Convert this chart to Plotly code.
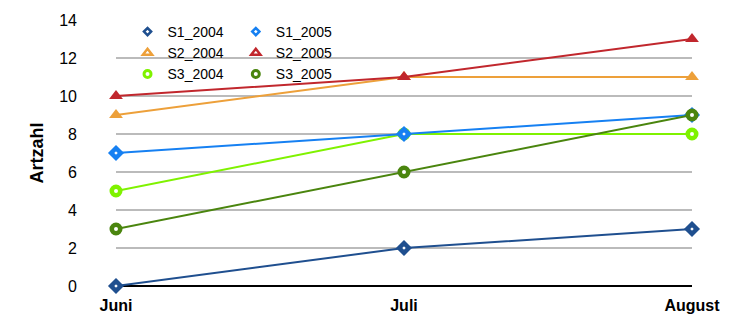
import plotly.graph_objects as go

months = ["Juni", "Juli", "August"]
s1_2004 = [0, 2, 3]
s1_2005 = [7, 8, 9]
s2_2004 = [9, 11, 11]
s2_2005 = [10, 11, 13]
s3_2004 = [5, 8, 8]
s3_2005 = [3, 6, 9]
y_ticks = [0, 2, 4, 6, 8, 10, 12, 14]

FONT = "Liberation Sans, Arial, Helvetica, sans-serif"

series = [
    ("S1_2004", s1_2004, "#1F4F8F", "diamond", "legend"),
    ("S2_2004", s2_2004, "#EDA03A", "triangle-up", "legend"),
    ("S3_2004", s3_2004, "#7FF200", "circle", "legend"),
    ("S1_2005", s1_2005, "#1680F2", "diamond", "legend2"),
    ("S2_2005", s2_2005, "#C1272D", "triangle-up", "legend2"),
    ("S3_2005", s3_2005, "#4A850E", "circle", "legend2"),
]


def plot_marker(sym, color):
    if sym == "triangle-up":
        return dict(symbol=sym, size=12, color=color, line=dict(width=0))
    if sym == "circle":
        return dict(symbol=sym, size=8.5, color="white",
                    line=dict(color=color, width=4.5))
    return dict(symbol=sym, size=7.5, color="white",
                line=dict(color=color, width=4.5))


def legend_marker(sym, color):
    if sym == "triangle-up":
        return dict(symbol=sym, size=8, color="white",
                    line=dict(color=color, width=2.5))
    if sym == "circle":
        return dict(symbol=sym, size=7, color="white",
                    line=dict(color=color, width=3))
    return dict(symbol=sym, size=5.5, color="white",
                line=dict(color=color, width=2.5))


fig = go.Figure()
for name, vals, color, sym, leg in series:
    fig.add_trace(go.Scatter(
        x=months, y=vals, name=name, mode="lines+markers",
        line=dict(color=color, width=2), marker=plot_marker(sym, color),
        cliponaxis=False, showlegend=False,
    ))
    # legend entry shows the symbol only
    fig.add_trace(go.Scatter(
        x=[None], y=[None], name=name, mode="markers",
        marker=legend_marker(sym, color), legend=leg, showlegend=True,
    ))

legend_style = dict(
    font=dict(family=FONT, size=14, color="black"),
    bgcolor="rgba(0,0,0,0)", borderwidth=0,
    tracegroupgap=0, itemwidth=30, itemsizing="trace",
    xanchor="left", yanchor="top", orientation="v",
)

fig.update_layout(
    width=750, height=328,
    margin=dict(l=116, r=58, t=20, b=42),
    paper_bgcolor="white", plot_bgcolor="white",
    font=dict(family=FONT, color="black"),
    showlegend=True,
    legend=dict(x=0.02, y=1.015, **legend_style),
    legend2=dict(x=0.208, y=1.015, **legend_style),
    xaxis=dict(
        type="category", range=[0, 2], showgrid=False, zeroline=False,
        showline=False, ticks="", ticklabelstandoff=8,
        tickfont=dict(family=FONT, size=16, color="black", weight="bold"),
    ),
    yaxis=dict(
        range=[0, 14], tickvals=y_ticks, showgrid=True,
        gridcolor="#BBBBBB", gridwidth=1.5,
        zeroline=True, zerolinecolor="black", zerolinewidth=1.5,
        showline=False, ticks="", ticklabelstandoff=38,
        tickfont=dict(family=FONT, size=16, color="black"),
        title=dict(text="Artzahl", standoff=10,
                   font=dict(family=FONT, size=18, color="black", weight="bold")),
    ),
)

fig.write_html("out.html")
